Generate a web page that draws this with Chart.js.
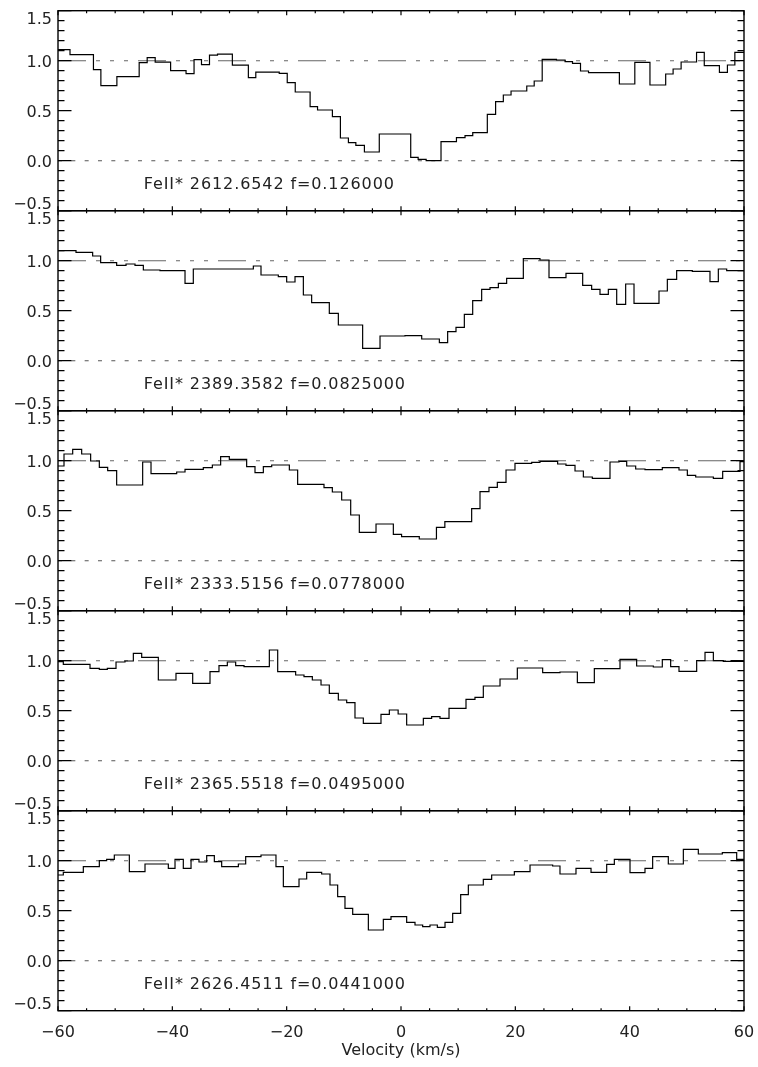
<!DOCTYPE html>
<html><head><meta charset="utf-8">
<script src="https://cdn.jsdelivr.net/npm/chart.js@4.4.1/dist/chart.umd.min.js"></script>
<style>html,body{margin:0;padding:0;background:#fff;} canvas{display:block;}</style>
</head><body>
<canvas id="c" width="758" height="1067"></canvas>
<script>
// ---- tick labels / text ----
const xTicks = [-60, -40, -20, 0, 20, 40, 60];
const yTicks = [-0.5, 0.0, 0.5, 1.0, 1.5];
const xTitle = 'Velocity (km/s)';
const lineLabels = [
  'FeII* 2612.6542 f=0.126000',
  'FeII* 2389.3582 f=0.0825000',
  'FeII* 2333.5156 f=0.0778000',
  'FeII* 2365.5518 f=0.0495000',
  'FeII* 2626.4511 f=0.0441000'
];
const continuumLevel = 1.0;
const zeroLevel = 0.0;

// ---- spectra: step start velocities (km/s) and normalised flux of each step ----
const edges1 = [-60, -57.9, -53.8, -52.5, -49.7, -45.8, -44.4, -43.0, -40.3, -37.6, -36.2, -34.9, -33.5, -32.1, -29.5, -26.7, -25.4, -21.3, -19.9, -18.5, -15.9, -14.6, -12.0, -10.6, -9.2, -7.9, -6.4, -3.8, 1.7, 3.0, 4.4, 7.0, 9.7, 11.2, 12.55, 15.1, 16.55, 17.9, 19.25, 22.0, 23.3, 24.7, 27.2, 28.7, 30.0, 31.4, 32.8, 38.2, 40.9, 43.55, 46.3, 47.6, 49.0, 51.7, 53.05, 55.7, 57.1, 58.4];
const levels1 = [1.11, 1.06, 0.91, 0.75, 0.84, 0.98, 1.03, 0.985, 0.90, 0.87, 1.01, 0.96, 1.055, 1.065, 0.955, 0.83, 0.885, 0.873, 0.78, 0.687, 0.54, 0.507, 0.44, 0.227, 0.18, 0.153, 0.087, 0.267, 0.034, 0.013, 0.0, 0.19, 0.23, 0.25, 0.28, 0.463, 0.59, 0.657, 0.697, 0.747, 0.797, 1.013, 1.007, 0.99, 0.973, 0.897, 0.88, 0.767, 0.983, 0.757, 0.867, 0.917, 0.987, 1.083, 0.95, 0.883, 0.957, 1.083];

const edges2 = [-60, -56.85, -53.94, -52.54, -49.74, -48.10, -46.53, -45.07, -42.16, -37.78, -36.33, -25.83, -24.49, -21.46, -20.0, -18.54, -17.08, -15.63, -12.54, -10.96, -6.71, -3.67, 0.70, 3.62, 6.71, 8.16, 9.62, 11.08, 12.54, 14.11, 15.57, 17.03, 18.48, 21.40, 24.31, 25.89, 28.86, 31.78, 33.35, 34.81, 36.27, 37.73, 39.30, 40.76, 45.13, 46.59, 48.22, 50.96, 54.05, 55.51, 56.97];
const levels2 = [1.10, 1.083, 1.047, 0.98, 0.953, 0.967, 0.953, 0.907, 0.90, 0.773, 0.917, 0.947, 0.857, 0.84, 0.787, 0.84, 0.657, 0.58, 0.473, 0.357, 0.123, 0.247, 0.25, 0.217, 0.18, 0.29, 0.333, 0.463, 0.60, 0.713, 0.73, 0.773, 0.823, 1.02, 1.007, 0.83, 0.873, 0.753, 0.713, 0.663, 0.713, 0.563, 0.767, 0.573, 0.697, 0.813, 0.90, 0.893, 0.79, 0.917, 0.90];

const edges3 = [-60, -58.95, -57.43, -55.86, -54.29, -52.77, -51.31, -49.74, -45.19, -43.73, -39.24, -37.78, -34.58, -33.0, -31.55, -30.03, -27.0, -25.54, -24.08, -22.62, -19.53, -18.08, -13.47, -12.01, -10.38, -8.80, -7.29, -4.37, -1.34, 0.1, 3.2, 6.2, 7.67, 12.36, 13.82, 15.39, 16.85, 18.37, 19.94, 22.86, 24.31, 27.4, 28.86, 30.44, 31.9, 33.47, 36.56, 38.13, 39.48, 41.05, 42.68, 45.71, 48.63, 50.09, 51.55, 54.64, 56.27, 59.3];
const levels3 = [0.947, 1.067, 1.113, 1.067, 0.997, 0.933, 0.90, 0.757, 0.987, 0.87, 0.887, 0.913, 0.93, 0.957, 1.04, 1.013, 0.94, 0.88, 0.94, 0.957, 0.907, 0.763, 0.73, 0.687, 0.607, 0.457, 0.283, 0.367, 0.263, 0.24, 0.217, 0.333, 0.39, 0.52, 0.69, 0.733, 0.783, 0.907, 0.973, 0.983, 0.993, 0.967, 0.953, 0.897, 0.837, 0.823, 0.987, 0.993, 0.947, 0.917, 0.91, 0.93, 0.907, 0.853, 0.837, 0.823, 0.893, 0.99];

const edges4 = [-60, -59.07, -54.4, -52.77, -51.37, -49.85, -48.28, -46.82, -45.36, -42.45, -39.36, -36.44, -33.41, -31.84, -30.38, -28.92, -27.46, -23.03, -21.57, -18.43, -16.97, -15.51, -13.99, -12.54, -10.96, -9.5, -8.05, -6.59, -3.5, -2.04, -0.5, 0.99, 3.91, 5.36, 6.82, 8.40, 11.37, 12.94, 14.40, 17.32, 20.35, 24.78, 27.81, 30.85, 33.82, 38.31, 41.22, 44.14, 45.71, 47.17, 48.63, 51.72, 53.18, 54.64, 56.38];
const levels4 = [0.99, 0.963, 0.923, 0.913, 0.923, 0.987, 0.997, 1.073, 1.033, 0.807, 0.873, 0.773, 0.89, 0.95, 0.987, 0.95, 0.94, 1.107, 0.89, 0.857, 0.84, 0.807, 0.757, 0.673, 0.607, 0.58, 0.427, 0.373, 0.463, 0.507, 0.467, 0.357, 0.423, 0.44, 0.423, 0.523, 0.613, 0.633, 0.747, 0.817, 0.927, 0.88, 0.887, 0.78, 0.92, 1.013, 0.947, 0.937, 1.01, 0.94, 0.893, 1.0, 1.083, 1.0, 0.993];

const edges5 = [-60, -59.07, -55.57, -52.77, -51.49, -50.15, -47.52, -44.78, -40.70, -39.53, -38.08, -36.73, -35.34, -33.99, -32.65, -31.37, -28.45, -27.17, -24.49, -21.87, -20.58, -17.84, -16.5, -13.88, -12.42, -11.08, -9.8, -8.45, -5.71, -3.09, -1.75, 0.99, 2.45, 3.79, 5.07, 6.36, 7.70, 9.04, 10.44, 11.78, 14.40, 15.86, 19.83, 22.57, 26.53, 27.81, 30.61, 33.24, 35.98, 37.32, 40.06, 42.68, 44.02, 46.76, 49.39, 52.01, 56.21, 58.72];
const levels5 = [0.857, 0.883, 0.94, 1.0, 1.013, 1.057, 0.89, 0.967, 0.923, 1.013, 0.923, 1.013, 0.987, 1.05, 0.99, 0.94, 0.967, 1.04, 1.057, 0.94, 0.74, 0.817, 0.883, 0.867, 0.757, 0.64, 0.523, 0.463, 0.307, 0.413, 0.44, 0.383, 0.357, 0.34, 0.357, 0.333, 0.383, 0.473, 0.66, 0.757, 0.813, 0.857, 0.89, 0.957, 0.947, 0.867, 0.923, 0.883, 0.963, 1.013, 0.88, 0.923, 1.04, 0.967, 1.113, 1.067, 1.08, 1.013];

// ---- assembly ----
const X_MIN = xTicks[0], X_MAX = xTicks[xTicks.length - 1];
const Y_MIN = yTicks[0], Y_MAX = yTicks[yTicks.length - 1];
const panelIds = ['p1', 'p2', 'p3', 'p4', 'p5'];
const allEdges = [edges1, edges2, edges3, edges4, edges5];
const allLevels = [levels1, levels2, levels3, levels4, levels5];
const FONT = 'DejaVu Sans';
const fmt = v => (v < 0 ? '\u2212' : '') + Math.abs(v).toFixed(1);

function stepPoints(edges, levels) {
  const pts = edges.map((x, i) => ({ x: x, y: levels[i] }));
  pts.push({ x: X_MAX, y: levels[levels.length - 1] });
  return pts;
}

const datasets = [];
panelIds.forEach((id, i) => {
  datasets.push({ data: stepPoints(allEdges[i], allLevels[i]), xAxisID: 'x', yAxisID: id,
    stepped: 'before', borderColor: '#000', borderWidth: 1.2, pointRadius: 0, fill: false, order: 0 });
  datasets.push({ data: [{ x: X_MIN, y: continuumLevel }, { x: X_MAX, y: continuumLevel }], xAxisID: 'x', yAxisID: id,
    borderColor: '#666', borderWidth: 1.1, borderDash: [28, 10, 4, 10, 4, 10, 4, 10], pointRadius: 0, fill: false, order: 1 });
  datasets.push({ data: [{ x: X_MIN, y: zeroLevel }, { x: X_MAX, y: zeroLevel }], xAxisID: 'x', yAxisID: id,
    borderColor: '#555', borderWidth: 1.1, borderDash: [4, 9.33], pointRadius: 0, fill: false, order: 1 });
});

const scales = {
  x: {
    type: 'linear', position: 'bottom', min: X_MIN, max: X_MAX,
    grid: { display: false, drawTicks: false, tickLength: 0 }, border: { display: false },
    ticks: { stepSize: 20, color: '#222', font: { family: FONT, size: 16 }, padding: 13, maxRotation: 0,
      callback: v => (v < 0 ? '\u2212' : '') + Math.abs(v) },
    afterBuildTicks: s => { s.ticks = xTicks.map(v => ({ value: v })); },
    title: { display: true, text: xTitle, color: '#222', font: { family: FONT, size: 16 }, padding: { top: 0, bottom: 7 } },
    afterFit: s => { s.height = 56.3; s.paddingLeft = 0; s.paddingRight = 0; }
  }
};
[...panelIds].reverse().forEach(id => {
  scales[id] = {
    type: 'linear', position: 'left', stack: 'panels', stackWeight: 1, offset: false,
    min: Y_MIN, max: Y_MAX,
    grid: { display: false, drawTicks: false, tickLength: 0 }, border: { display: false },
    ticks: { display: false },
    afterFit: s => { s.width = 58; s.paddingTop = 0; s.paddingBottom = 0; }
  };
});

const framePlugin = {
  id: 'idlFrame',
  afterDatasetsDraw(chart) {
    const ctx = chart.ctx;
    const xs = chart.scales.x;
    const L = xs.getPixelForValue(X_MIN), R = xs.getPixelForValue(X_MAX);
    ctx.save();
    panelIds.forEach((id, i) => {
      const ys = chart.scales[id];
      const T = ys.getPixelForValue(Y_MAX), B = ys.getPixelForValue(Y_MIN);
      // frame
      ctx.strokeStyle = '#000';
      ctx.lineWidth = 1.4;
      ctx.setLineDash([]);
      ctx.strokeRect(L, T, R - L, B - T);
      // x ticks (top & bottom, inward)
      ctx.lineWidth = 1.2;
      ctx.beginPath();
      for (let v = X_MIN; v <= X_MAX; v += 5) {
        const px = xs.getPixelForValue(v);
        const len = (v % 20 === 0) ? 4.5 : 2.5;
        ctx.moveTo(px, T); ctx.lineTo(px, T + len);
        ctx.moveTo(px, B); ctx.lineTo(px, B - len);
      }
      // y ticks (left & right, inward)
      for (let k = 0; k <= 20; k++) {
        const v = Y_MIN + k * 0.1;
        const py = ys.getPixelForValue(v);
        const len = (k % 5 === 0) ? 13.5 : 6.5;
        ctx.moveTo(L, py); ctx.lineTo(L + len, py);
        ctx.moveTo(R, py); ctx.lineTo(R - len, py);
      }
      ctx.stroke();
      // y tick labels
      ctx.fillStyle = '#222';
      ctx.font = '16px "' + FONT + '"';
      ctx.textAlign = 'right';
      ctx.textBaseline = 'alphabetic';
      yTicks.forEach(v => {
        const py = ys.getPixelForValue(v);
        let off = 6;
        if (v === Y_MAX) off = 13.3;
        if (v === Y_MIN) off = -1.7;
        ctx.fillText(fmt(v), L - 6, py + off);
      });
      // line identification label
      ctx.textAlign = 'left';
      ctx.letterSpacing = '0.9px';
      ctx.fillText(lineLabels[i], xs.getPixelForValue(-45), ys.getPixelForValue(-0.28));
      ctx.letterSpacing = '0px';
    });
    ctx.restore();
  }
};

new Chart(document.getElementById('c'), {
  type: 'line',
  data: { datasets: datasets },
  options: {
    responsive: false, animation: false, devicePixelRatio: 1,
    layout: { padding: { left: 0, right: 14, top: 10.7, bottom: 0 } },
    plugins: { legend: { display: false }, tooltip: { enabled: false }, title: { display: false } },
    scales: scales
  },
  plugins: [framePlugin]
});
</script>
</body></html>
